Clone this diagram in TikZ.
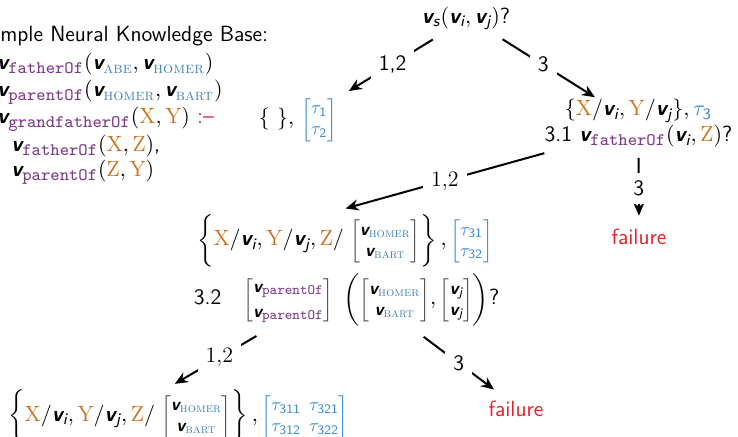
\documentclass[tikz,border=0pt]{standalone}
\usepackage{fontspec}
\usepackage{amsmath}
\usepackage{graphicx}
\usetikzlibrary{arrows.meta}

\DeclareMathSizes{11}{11}{8}{6}
\DeclareMathSizes{9}{9}{6.5}{5}

\definecolor{relpurple}{RGB}{125,60,135}
\definecolor{varorange}{RGB}{204,110,20}
\definecolor{entblue}{RGB}{70,130,180}
\definecolor{taublue}{RGB}{60,140,210}
\definecolor{failred}{RGB}{232,30,40}
\definecolor{rulered}{RGB}{200,40,40}
\definecolor{brackgray}{RGB}{75,75,75}

\newcommand\vemb{\textsf{\bfseries\itshape v}}
\newcommand\emb[1]{\vemb_{\textsf{\mdseries\itshape #1}}}
\newcommand\remb[1]{\vemb_{\text{\scalebox{1.1}{\ttfamily\mdseries\upshape\color{relpurple}#1}}}}
\newcommand\eemb[1]{\vemb_{\textrm{\mdseries\upshape\color{entblue}\scshape #1}}}
\newcommand\lvar[1]{\textcolor{varorange}{\mathrm{#1}}}
\newcommand\emat[1]{\text{\fontsize{9}{10.5}\selectfont\color{brackgray}$\left[{\color{black}\begin{matrix}#1\end{matrix}}\right]$}}
\newcommand\tmat[1]{\text{\fontsize{9}{10.5}\selectfont\color{taublue}\arraycolsep=2pt$\begin{bmatrix}#1\end{bmatrix}$}}

\begin{document}
\begin{tikzpicture}[
  x=0.5pt,y=0.5pt,
  txt/.style={inner sep=0pt,font=\fontsize{11}{13}\selectfont\sffamily},
  kb/.style={txt,anchor=base west},
  fail/.style={txt,text=failred},
  edge/.style={draw=black,line width=1pt,-{Stealth[length=6.5pt,width=5.5pt]}},
  lab/.style={fill=white,inner sep=4pt,font=\fontsize{11}{13}\selectfont\sffamily},
  labrm/.style={lab,font=\fontsize{11}{13}\selectfont\rmfamily},
]
\useasboundingbox (0,0) rectangle (738,-437);

\node[kb] (kb0) at (0,-42) {mple Neural Knowledge Base:};
\node[kb] (kb1) at (-3,-70) {$\remb{fatherOf}(\eemb{abe}, \eemb{homer})$};
\node[kb] (kb2) at (-3,-97) {$\remb{parentOf}(\eemb{homer}, \eemb{bart})$};
\node[kb] (kb3) at (-3,-124) {$\remb{grandfatherOf}(\lvar{X}, \lvar{Y})$ \textcolor{rulered}{:--}};
\node[kb] (kb4) at (11,-152) {$\remb{fatherOf}(\lvar{X}, \lvar{Z})$,};
\node[kb] (kb5) at (11,-177) {$\remb{parentOf}(\lvar{Z}, \lvar{Y})$};

\node[txt] (q0) at (466,-18.5) {$\emb{s}(\emb{i}, \emb{j})$?};
\node[txt] (r1) at (298,-120) {$\{\ \},\,\tmat{\tau_{\textsf{1}}\\ \tau_{\textsf{2}}}$};
\node[txt,align=center] (r2) at (638.5,-123.5)
  {$\{\lvar{X}/\emb{i}, \lvar{Y}/\emb{j}\}, \textcolor{taublue}{\tau_{\textsf{3}}}$\\
   3.1 $\remb{fatherOf}(\emb{i}, \lvar{Z})$?};
\node[fail] (fail1) at (639,-237) {failure};
\node[txt] (m1) at (345,-240.5)
  {$\left\{\lvar{X}/\emb{i}, \lvar{Y}/\emb{j}, \lvar{Z}/\;\emat{\eemb{homer}\\ \eemb{bart}}\right\}, \tmat{\tau_{\textsf{31}}\\ \tau_{\textsf{32}}}$};
\node[txt] (m2) at (346.5,-299.5)
  {3.2\quad$\emat{\remb{parentOf}\\[2pt] \remb{parentOf}}\;\left(\emat{\eemb{homer}\\ \eemb{bart}}, \emat{\emb{j}\\ \emb{j}}\right)$?};
\node[txt] (b1) at (178.5,-416)
  {$\left\{\lvar{X}/\emb{i}, \lvar{Y}/\emb{j}, \lvar{Z}/\;\emat{\eemb{homer}\\ \eemb{bart}}\right\}, \tmat{\tau_{\textsf{311}} & \tau_{\textsf{321}}\\ \tau_{\textsf{312}} & \tau_{\textsf{322}}}$};
\node[fail] (fail2) at (516,-408.5) {failure};

\draw[edge,shorten <=8.7pt,shorten >=6.7pt] (q0.213) -- node[lab]{1,2} (r1.north east);
\draw[edge,shorten <=8.4pt,shorten >=1.8pt] (q0.332) -- node[lab]{3} (r2.149.6);
\draw[edge,shorten <=10pt,shorten >=10pt] (r2.198) -- node[labrm]{1,2} (m1.125.5);
\draw[edge,shorten <=5pt,shorten >=6.5pt] (r2.south) -- node[lab]{3} (fail1.north);
\draw[edge,shorten <=9.7pt,shorten >=5.4pt] (m2.200) -- node[labrm]{1,2} (b1.116.6);
\draw[edge,shorten <=8.9pt,shorten >=8.9pt] (m2.337) -- node[lab]{3} (fail2.133);
\end{tikzpicture}
\end{document}
